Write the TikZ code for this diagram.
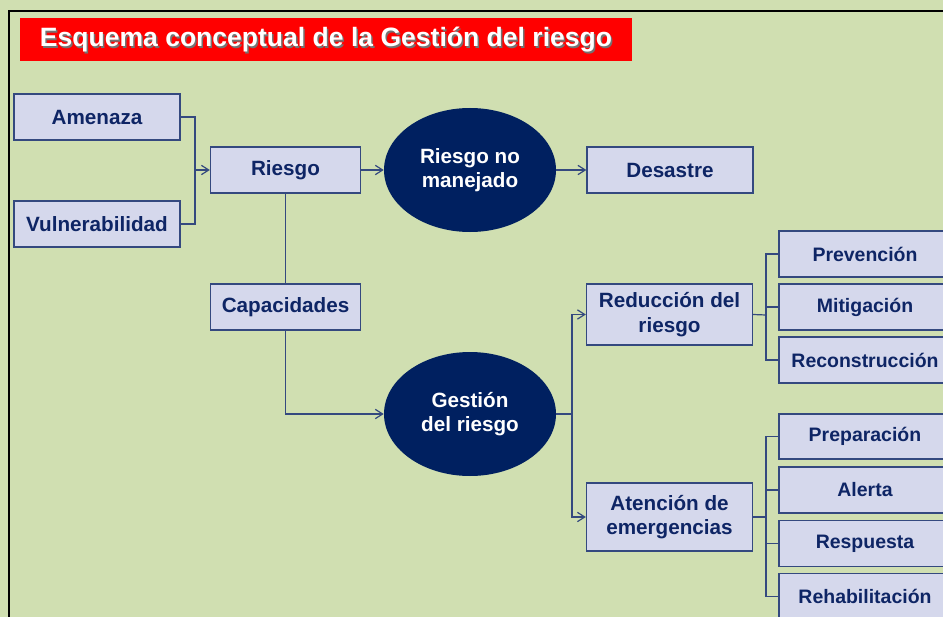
\documentclass[tikz,border=0pt]{standalone}
\usepackage{fontspec}
\setmainfont{Liberation Sans}
\usetikzlibrary{shapes.geometric, positioning, arrows.meta}
\definecolor{fondo}{HTML}{D0DFB1}
\definecolor{relleno}{HTML}{D5D8EC}
\definecolor{borde}{HTML}{34497F}
\definecolor{texto}{HTML}{0E2565}
\definecolor{marino}{HTML}{002060}
\tikzset{
>={Straight Barb[length=5.5pt, width=7pt]}, % open arrow heads
x=0.75pt, y=-0.75pt, % one unit is one pixel of the slide
caja/.style={draw=borde, fill=relleno, line width=1pt, text=texto, align=center,
  font=\bfseries\fontsize{15.5}{18.5}\selectfont, inner sep=0pt, minimum height=34.5pt}, % light boxes
hoja/.style={caja, font=\bfseries\fontsize{14.6}{17.5}\selectfont, minimum width=129pt}, % boxes on the right
ovalo/.style={ellipse, fill=marino, text=white, align=center, inner sep=0pt,
  font=\bfseries\fontsize{15.5}{18.5}\selectfont, minimum width=129pt, minimum height=93pt}, % dark ellipses
linea/.style={draw=borde, line width=0.9pt}, % plain connector
flecha/.style={linea, ->}, % connector with arrow
}
\begin{document}
\begin{tikzpicture}
\useasboundingbox (0,0) rectangle (943,617);
\clip (0,0) rectangle (943,617);
\fill[fondo] (0,0) rectangle (943,617);
\draw[black, line width=2pt] (9,617) -- (9,11) -- (943,11);

% title
\node[fill=red, minimum width=459pt, minimum height=32pt] (banda) at (326,39.5) {};
\node[text=black!55, font=\bfseries\fontsize{19.9}{23}\selectfont] (sombra) at (327.5,41.5) {Esquema conceptual de la Gestión del riesgo};
\node[text=white, font=\bfseries\fontsize{19.9}{23}\selectfont] (titulo) at (326,40) {Esquema conceptual de la Gestión del riesgo};

% left part
\node[caja, minimum width=124.5pt] (amenaza) at (97,117) {Amenaza};
\node[caja, minimum width=124.5pt] (vulnera) at (97,224) {Vulnerabilidad};
\node[caja, minimum width=112.5pt] (riesgo) at (285.5,170) {Riesgo};
\node[caja, minimum width=112.5pt] (capac) at (285.5,307) {Capacidades};
\node[ovalo] (noman) at (470,170) {Riesgo no\\manejado};
\node[ovalo] (gestion) at (470,414) {Gestión\\del riesgo};
\node[caja, minimum width=124.5pt] (desastre) at (670,170) {Desastre};

% middle part
\node[caja, minimum width=124.5pt, minimum height=45.75pt] (reduccion) at (669.5,314.5) {Reducción del\\riesgo};
\node[caja, minimum width=124.5pt, minimum height=51pt] (atencion) at (669.5,517) {Atención de\\emergencias};

% right part
\node[hoja] (prevencion) at (865,254) {Prevención};
\node[hoja] (mitigacion) at (865,307) {Mitigación};
\node[hoja] (reconstruccion) at (865,360) {Reconstrucción};
\node[hoja, minimum height=33.75pt] (preparacion) at (865,436.5) {Preparación};
\node[hoja] (alerta) at (865,490) {Alerta};
\node[hoja] (respuesta) at (865,543.5) {Respuesta};
\node[hoja] (rehabilitacion) at (865,596.5) {Rehabilitación};

\coordinate (union) at (195,170);
\coordinate (reparto) at (572,414);
\coordinate (ramaA) at (766,315);
\coordinate (ramaB) at (766,517);

\draw[linea] (amenaza.east) -| (union) |- (vulnera.east);
\draw
    (union) edge[flecha] (riesgo.west)
    (riesgo.east) edge[flecha] (noman.west)
    (noman.east) edge[flecha] (desastre.west)
    (riesgo.south) edge[linea] (capac.north)
    ;
\draw[flecha] (capac.south) |- (gestion.west);
\draw[linea] (gestion.east) -- (reparto);
\draw[flecha] (reparto) |- (reduccion.west);
\draw[flecha] (reparto) |- (atencion.west);

\draw[linea] (reduccion.east) -- (ramaA);
\foreach \n in {prevencion, mitigacion, reconstruccion}
    \draw[linea] (ramaA) |- (\n.west);
\draw[linea] (atencion.east) -- (ramaB);
\foreach \n in {preparacion, alerta, respuesta, rehabilitacion}
    \draw[linea] (ramaB) |- (\n.west);
\end{tikzpicture}
\end{document}
